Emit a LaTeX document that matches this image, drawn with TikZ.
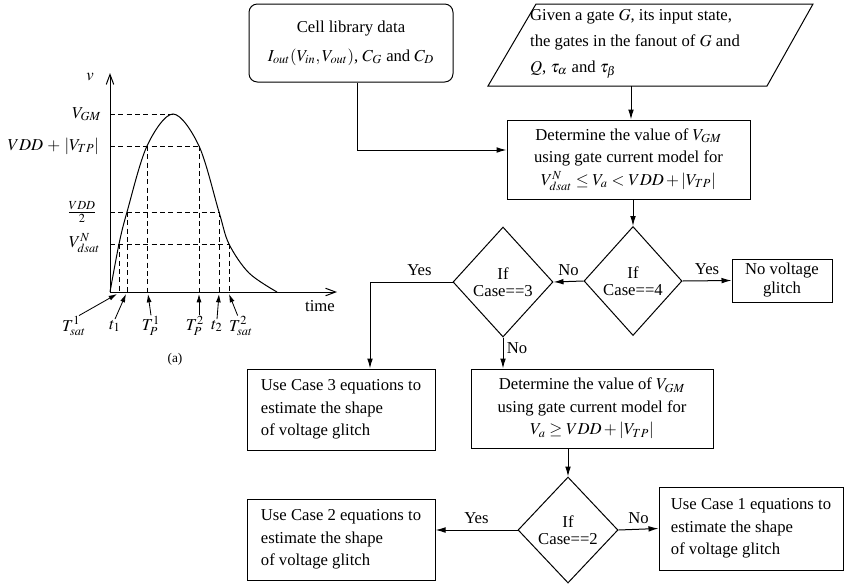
\documentclass[tikz,border=0pt]{standalone}
\usepackage{mathptmx}
\usepackage{fontspec}
\setmainfont{Liberation Serif}
\usetikzlibrary{arrows.meta}
\usetikzlibrary{shapes.geometric, math}

\begin{document}
\begin{tikzpicture}[x=0.6pt,y=-0.6pt,font=\fontsize{10}{13.5}\selectfont,
  box/.style={draw, rectangle, inner sep=0pt, line width=0.6pt},
  decision/.style={draw, diamond, inner sep=0pt, align=center, line width=0.6pt,
    font=\fontsize{10}{10}\selectfont},
  flow/.style={-{Latex[length=6pt,width=3.4pt]}, line width=0.6pt},
  tip/.style={-{Latex[length=5pt,width=3pt]}, line width=0.5pt},
  guide/.style={dashed, dash pattern=on 3pt off 2pt, line width=0.5pt},
  axis/.style={-{Straight Barb[length=6pt,width=4.5pt]}, line width=0.6pt}]
\useasboundingbox (0,0) rectangle (845,587);
\tikzmath{
\ox=110;
\oy=292;
}

%axes
\draw[axis] (\ox,\oy) -- (\ox,73);
\draw[axis] (\ox,\oy) -- (337,\oy);
\node (vlab) at (90,77) {$v$};
\node (tlab) at (320,306) {time};

%glitch
\draw[line width=0.6pt] plot[smooth, tension=0.55] coordinates {(110,292) (119,244) (127,212) (147,146) (173,114) (199,146) (219,212) (229,244) (249,273) (277,292)};

%levels
\foreach \ly/\lx in {114/173, 146/199, 212/219, 244/229}
  \draw[guide] (\ox,\ly) -- (\lx,\ly);
\foreach \lx/\ly in {119/244, 127/212, 147/146, 199/146, 219/212, 229/244}
  \draw[guide] (\lx,\ly) -- (\lx,\oy);

\node[anchor=east] (vgm) at (107,114) {$V_{GM}$};
\node[anchor=east] (vtp) at (105,146) {$VDD\,+\,|V_{TP}|$};
\node (vhalf) at (82,212) {$\frac{VDD}{2}$};
\node[anchor=east] (vdsat) at (106,243) {$V^N_{dsat}$};

%time points
\node[inner sep=0.5pt] (ts1) at (74,326) {$T^1_{sat}$};
\node[inner sep=0.5pt] (t1) at (115,326) {$t_1$};
\node[inner sep=0.5pt] (tp1) at (151,326) {$T^1_P$};
\node[inner sep=0.5pt] (tp2) at (195,326) {$T^2_P$};
\node[inner sep=0.5pt] (t2) at (217,326) {$t_2$};
\node[inner sep=0.5pt] (ts2) at (241,326) {$T^2_{sat}$};
\coordinate (a1) at (117,294);
\coordinate (a2) at (126,294);
\coordinate (a3) at (148,294);
\coordinate (a4) at (199,294);
\coordinate (a5) at (219,294);
\coordinate (a6) at (229,294);
\draw[tip] ([xshift=3pt]ts1.north) -- (a1);
\draw[tip] (t1.north) -- (a2);
\draw[tip] (tp1.north) -- (a3);
\draw[tip] (a4 |- tp2.north) -- (a4);
\draw[tip] (t2.north) -- (a5);
\draw[tip] ([xshift=-2pt]ts2.north) -- (a6);
\node[font=\footnotesize] (cap) at (175,359) {(a)};

%flowchart
\node[box, rounded corners=5pt, minimum width=122.4pt, minimum height=46.8pt, align=center] (cell) at (351,43)
  {Cell library data\\[4pt] $I_{out}(V_{in},V_{out})$, $C_G$ and $C_D$};
% input parallelogram
\draw[line width=0.6pt] (488,86) -- (536,4) -- (813,4) -- (767,86) -- cycle;
\node[align=left, inner sep=0pt] (given) at (635,44)
  {Given a gate $G$, its input state,\\[2pt] the gates in the fanout of $G$ and\\[2pt] $Q$, $\tau_\alpha$ and $\tau_\beta$};
\coordinate (gbot) at (631,86);
\node[box, minimum width=145.8pt, minimum height=47.4pt, align=center] (det1) at (628.5,159.5)
  {Determine the value of $V_{GM}$\\ using gate current model for\\ $V^N_{dsat}\le V_a<VDD+|V_{TP}|$};
\node[decision, minimum width=58.8pt, minimum height=65.4pt] (d4) at (633,281) {If\\Case==4};
\node[box, minimum width=60pt, minimum height=25.8pt, align=center, font=\fontsize{10}{11.4}\selectfont] (nog) at (782,280.5) {No voltage\\glitch};
\node[decision, minimum width=60pt, minimum height=66pt] (d3) at (503,282) {If\\Case==3};
\node[box, minimum width=112.8pt, minimum height=48.6pt, align=left] (case3) at (341,409.5)
  {Use Case 3 equations to\\ estimate the shape\\ of voltage glitch};
\node[box, minimum width=145.2pt, minimum height=47.4pt, align=center] (det2) at (592,408.5)
  {Determine the value of $V_{GM}$\\ using gate current model for\\ $V_a\ge VDD+|V_{TP}|$};
\node[decision, minimum width=60pt, minimum height=63.6pt] (d2) at (568,530) {If\\Case==2};
\node[box, minimum width=112.8pt, minimum height=48.6pt, align=left] (case2) at (341,539.5)
  {Use Case 2 equations to\\ estimate the shape\\ of voltage glitch};
\node[box, minimum width=110.4pt, minimum height=49.8pt, align=left] (case1) at (751,528.5)
  {Use Case 1 equations to\\ estimate the shape\\ of voltage glitch};

%connectors
\draw[flow] ([xshift=3.6pt]cell.south) |- ([yshift=5.7pt]det1.west);
\draw[flow] (gbot) -- (gbot |- det1.north);
\draw[flow] (d4.north |- det1.south) -- (d4.north);
\draw[flow] (d4.east) -- node[above] {Yes} (nog.west);
\draw[flow] (d4.west) -- node[above] {No} (d3.east);
\draw[flow] (d3.west) -| node[above, pos=0.2] {Yes} ([xshift=17.4pt]case3.north);
\draw[flow] (d3.south) -- node[right, pos=0.35, inner sep=2pt] {No} (d3.south |- det2.north);
\draw[flow] (d2.north |- det2.south) -- (d2.north);
\draw[flow] (d2.west) -- node[above] {Yes} (d2.west -| case2.east);
\draw[flow] (d2.east) -- node[above] {No} (case1.west);

\end{tikzpicture}
\end{document}
